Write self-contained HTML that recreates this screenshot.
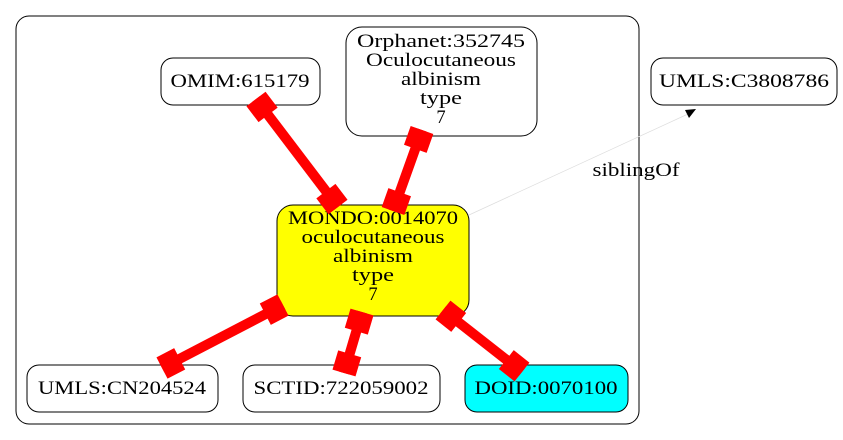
<!DOCTYPE html>
<html><head><meta charset="utf-8"><style>html,body{margin:0;padding:0;background:#fff}svg{display:block}</style></head>
<body>
<svg width="843" height="440" viewBox="0 0 843 440" xmlns="http://www.w3.org/2000/svg" font-family="Liberation Serif, serif" font-size="18.5" text-anchor="middle">
<rect x="16" y="16" width="623" height="408" rx="13" fill="none" stroke="#000"/>
<g stroke="#000" stroke-width="1">
<rect x="161" y="58" width="159" height="47" rx="12" fill="#fff"/>
<rect x="346" y="27" width="191" height="109" rx="16" fill="#fff"/>
<rect x="651" y="58" width="186" height="47" rx="12" fill="#fff"/>
<rect x="277" y="205" width="192" height="111" rx="16" fill="#ff0"/>
<rect x="27" y="365" width="191" height="47" rx="12" fill="#fff"/>
<rect x="243" y="365" width="197" height="47" rx="12" fill="#fff"/>
<rect x="465" y="365" width="163" height="47" rx="12" fill="#0ff"/>
</g>
<g fill="#000">
<text x="240" y="87" textLength="139" lengthAdjust="spacingAndGlyphs">OMIM:615179</text>
<text x="441" y="47" textLength="168" lengthAdjust="spacingAndGlyphs">Orphanet:352745</text>
<text x="441" y="66" textLength="150" lengthAdjust="spacingAndGlyphs">Oculocutaneous</text>
<text x="441" y="85" textLength="80" lengthAdjust="spacingAndGlyphs">albinism</text>
<text x="441" y="104" textLength="42" lengthAdjust="spacingAndGlyphs">type</text>
<text x="441" y="123">7</text>
<text x="744" y="87" textLength="170" lengthAdjust="spacingAndGlyphs">UMLS:C3808786</text>
<text x="373" y="224" textLength="170" lengthAdjust="spacingAndGlyphs">MONDO:0014070</text>
<text x="373" y="243" textLength="143" lengthAdjust="spacingAndGlyphs">oculocutaneous</text>
<text x="373" y="262" textLength="80" lengthAdjust="spacingAndGlyphs">albinism</text>
<text x="373" y="281" textLength="42" lengthAdjust="spacingAndGlyphs">type</text>
<text x="373" y="300">7</text>
<text x="122" y="394" textLength="168" lengthAdjust="spacingAndGlyphs">UMLS:CN204524</text>
<text x="341" y="394" textLength="175" lengthAdjust="spacingAndGlyphs">SCTID:722059002</text>
<text x="546" y="394" textLength="143" lengthAdjust="spacingAndGlyphs">DOID:0070100</text>
<text x="636" y="176" textLength="87" lengthAdjust="spacingAndGlyphs">siblingOf</text>
</g>
<line x1="469" y1="215" x2="688" y2="114" stroke="#ddd" stroke-width="0.7"/>
<polygon points="696,109 685,110 689,118" fill="#000"/>
<g stroke="#f00" fill="none">
<g stroke-width="10">
<line x1="256" y1="99" x2="338" y2="207"/>
<line x1="422" y1="130" x2="393" y2="211"/>
<line x1="283" y1="305" x2="162" y2="368"/>
<line x1="362" y1="312" x2="344" y2="373"/>
<line x1="443" y1="310" x2="522" y2="372"/>
</g>
<g stroke-width="24">
<line x1="256" y1="99" x2="268.1" y2="114.9"/>
<line x1="338" y1="207" x2="325.9" y2="191.1"/>
<line x1="422" y1="130" x2="415.3" y2="148.8"/>
<line x1="393" y1="211" x2="399.7" y2="192.2"/>
<line x1="283" y1="305" x2="265.3" y2="314.2"/>
<line x1="162" y1="368" x2="179.7" y2="358.8"/>
<line x1="362" y1="312" x2="356.3" y2="331.2"/>
<line x1="344" y1="373" x2="349.7" y2="353.8"/>
<line x1="443" y1="310" x2="458.7" y2="322.4"/>
<line x1="522" y1="372" x2="506.3" y2="359.6"/>
</g>
</g>
</svg>
</body></html>
